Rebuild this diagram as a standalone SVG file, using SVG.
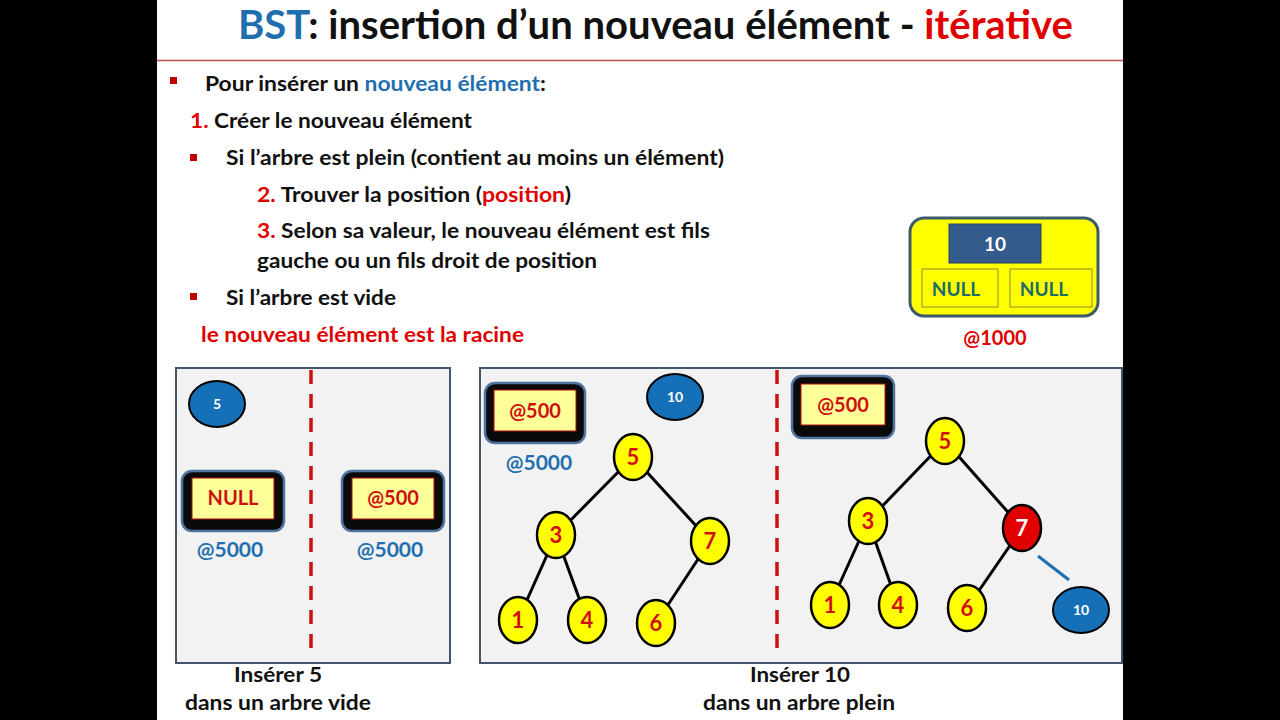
<svg xmlns="http://www.w3.org/2000/svg" width="1280" height="720" viewBox="0 0 1280 720">
<defs>
<style>
text{font-family:Lato,"Open Sans","Liberation Sans",sans-serif;font-weight:bold;}
.t{font-size:20px;fill:#111;}
.red{fill:#e00000;}
.blue{fill:#1f6fb0;}
.bul{fill:#c00000;}
.panel{fill:#f2f2f2;stroke:#44546a;stroke-width:2;}
.dash{stroke:#cc1010;stroke-width:3.5;stroke-dasharray:14 10;}
.outer{fill:#0a0a0a;stroke:#4f75a0;stroke-width:2.5;}
.inner{fill:#ffff99;stroke:#b01010;stroke-width:1;}
.ptr{font-size:20px;fill:#cc1010;text-anchor:middle;}
.addr{font-size:21px;fill:#1f6fb0;text-anchor:middle;}
.node{fill:#ffff00;stroke:#000;stroke-width:2.5;}
.nnum{font-size:22px;fill:#d01010;text-anchor:middle;}
.bnode{fill:#1570b8;stroke:#000;stroke-width:2;}
.bnum{font-size:14px;fill:#fff;text-anchor:middle;}
.edge{stroke:#000;stroke-width:3;}
.cap{font-size:21px;fill:#111;text-anchor:middle;}
</style>
</defs>
<rect x="0" y="0" width="1280" height="720" fill="#000"/>
<rect x="157" y="0" width="966" height="720" fill="#fff"/>
<line x1="157" y1="60.5" x2="1123" y2="60.5" stroke="#c0504d" stroke-width="1.5"/>
<text x="238" y="39" font-size="40" fill="#111" textLength="835" lengthAdjust="spacingAndGlyphs"><tspan class="blue">BST</tspan>: insertion d’un nouveau élément - <tspan class="red">itérative</tspan></text>

<g id="text-list">
<rect class="bul" x="170" y="77" width="7" height="7"/>
<text class="t" x="205" y="91" textLength="341" lengthAdjust="spacingAndGlyphs">Pour insérer un <tspan class="blue">nouveau élément</tspan>:</text>
<text class="t" x="190" y="128" textLength="282" lengthAdjust="spacingAndGlyphs"><tspan class="red">1.</tspan> Créer le nouveau élément</text>
<rect class="bul" x="190" y="154" width="7" height="7"/>
<text class="t" x="226" y="165" textLength="498" lengthAdjust="spacingAndGlyphs">Si l’arbre est plein (contient au moins un élément)</text>
<text class="t" x="257" y="202" textLength="314" lengthAdjust="spacingAndGlyphs"><tspan class="red">2.</tspan> Trouver la position (<tspan class="red">position</tspan>)</text>
<text class="t" x="257" y="238" textLength="453" lengthAdjust="spacingAndGlyphs"><tspan class="red">3.</tspan> Selon sa valeur, le nouveau élément est fils</text>
<text class="t" x="257" y="268" textLength="340" lengthAdjust="spacingAndGlyphs">gauche ou un fils droit de position</text>
<rect class="bul" x="190" y="293" width="7" height="7"/>
<text class="t" x="226" y="305" textLength="170" lengthAdjust="spacingAndGlyphs">Si l’arbre est vide</text>
<text class="t red" x="201" y="342" textLength="323" lengthAdjust="spacingAndGlyphs">le nouveau élément est la racine</text>
</g>

<g id="node-struct">
<rect x="910" y="218" width="188" height="98" rx="14" fill="#ffff00" stroke="#3d5a6b" stroke-width="3"/>
<rect x="949" y="224" width="92" height="39" fill="#335c8c" stroke="#2a3f5a" stroke-width="1"/>
<text x="995" y="251" font-size="19" fill="#fff" text-anchor="middle">10</text>
<rect x="922" y="269" width="76" height="38" fill="#ffff00" stroke="#8a8a30" stroke-width="1"/>
<rect x="1010" y="269" width="82" height="38" fill="#ffff00" stroke="#8a8a30" stroke-width="1"/>
<text x="956" y="296" font-size="19" fill="#1b6b6b" text-anchor="middle">NULL</text>
<text x="1044" y="296" font-size="19" fill="#1b6b6b" text-anchor="middle">NULL</text>
<text x="995" y="345" font-size="20" fill="#e00000" text-anchor="middle">@1000</text>
</g>

<g id="panel-empty">
<rect class="panel" x="176" y="368" width="274" height="295"/>
<line class="dash" x1="311" y1="370" x2="311" y2="650"/>
<ellipse class="bnode" cx="217" cy="404" rx="28" ry="23"/>
<text class="bnum" x="217" y="409">5</text>
<rect class="outer" x="182" y="471" width="102" height="60" rx="10"/>
<rect class="inner" x="192" y="478" width="82" height="41"/>
<text class="ptr" x="233" y="505">NULL</text>
<text class="addr" x="230" y="557">@5000</text>
<rect class="outer" x="342" y="471" width="102" height="60" rx="10"/>
<rect class="inner" x="352" y="478" width="82" height="41"/>
<text class="ptr" x="393" y="505">@500</text>
<text class="addr" x="390" y="557">@5000</text>
</g>
<text class="cap" x="278" y="682" textLength="88" lengthAdjust="spacingAndGlyphs">Insérer 5</text>
<text class="cap" x="278" y="710" textLength="186" lengthAdjust="spacingAndGlyphs">dans un arbre vide</text>

<g id="panel-full">
<rect class="panel" x="480" y="368" width="642" height="295"/>
<line class="dash" x1="777" y1="370" x2="777" y2="650"/>
</g>

<g id="connectors">
<line class="edge" x1="633" y1="457" x2="556" y2="535"/>
<line class="edge" x1="633" y1="457" x2="710" y2="541"/>
<line class="edge" x1="556" y1="535" x2="518" y2="620"/>
<line class="edge" x1="556" y1="535" x2="587" y2="620"/>
<line class="edge" x1="710" y1="541" x2="656" y2="623"/>
<line class="edge" x1="945" y1="441" x2="868" y2="521"/>
<line class="edge" x1="945" y1="441" x2="1022" y2="528"/>
<line class="edge" x1="868" y1="521" x2="830" y2="605"/>
<line class="edge" x1="868" y1="521" x2="898" y2="605"/>
<line class="edge" x1="1022" y1="528" x2="967" y2="608"/>
<line x1="1038" y1="556" x2="1069" y2="580" stroke="#1f6fb0" stroke-width="3"/>
</g>

<g id="before">
<rect class="outer" x="485" y="383" width="100" height="60" rx="10"/>
<rect class="inner" x="494" y="390" width="82" height="41"/>
<text class="ptr" x="535" y="418">@500</text>
<text class="addr" x="539" y="470">@5000</text>
<ellipse class="bnode" cx="675" cy="397" rx="28" ry="23"/>
<text class="bnum" x="675" y="402">10</text>
<g id="a5"><ellipse class="node" cx="633" cy="457" rx="19" ry="23"/><text class="nnum" x="633" y="465">5</text></g>
<g id="a3"><ellipse class="node" cx="556" cy="535" rx="19" ry="23"/><text class="nnum" x="556" y="543">3</text></g>
<g id="a7"><ellipse class="node" cx="710" cy="541" rx="19" ry="23"/><text class="nnum" x="710" y="549">7</text></g>
<g id="a1"><ellipse class="node" cx="518" cy="620" rx="19" ry="23"/><text class="nnum" x="518" y="628">1</text></g>
<g id="a4"><ellipse class="node" cx="587" cy="620" rx="19" ry="23"/><text class="nnum" x="587" y="628">4</text></g>
<g id="a6"><ellipse class="node" cx="656" cy="623" rx="19" ry="23"/><text class="nnum" x="656" y="631">6</text></g>
</g>

<g id="after">
<rect class="outer" x="792" y="376" width="102" height="62" rx="10"/>
<rect class="inner" x="801" y="384" width="84" height="41"/>
<text class="ptr" x="843" y="412">@500</text>
<g id="b5"><ellipse class="node" cx="945" cy="441" rx="19" ry="23"/><text class="nnum" x="945" y="449">5</text></g>
<g id="b3"><ellipse class="node" cx="868" cy="521" rx="19" ry="23"/><text class="nnum" x="868" y="529">3</text></g>
<g id="b7"><ellipse cx="1022" cy="528" rx="19" ry="23" fill="#e00000" stroke="#000" stroke-width="2.5"/><text class="nnum" x="1022" y="536" style="fill:#fff">7</text></g>
<g id="b1"><ellipse class="node" cx="830" cy="605" rx="19" ry="23"/><text class="nnum" x="830" y="613">1</text></g>
<g id="b4"><ellipse class="node" cx="898" cy="605" rx="19" ry="23"/><text class="nnum" x="898" y="613">4</text></g>
<g id="b6"><ellipse class="node" cx="967" cy="608" rx="19" ry="23"/><text class="nnum" x="967" y="616">6</text></g>
<g id="b10"><ellipse class="bnode" cx="1081" cy="610" rx="28" ry="23"/><text class="bnum" x="1081" y="615">10</text></g>
</g>
<text class="cap" x="800" y="682" textLength="100" lengthAdjust="spacingAndGlyphs">Insérer 10</text>
<text class="cap" x="799" y="710" textLength="192" lengthAdjust="spacingAndGlyphs">dans un arbre plein</text>
</svg>
